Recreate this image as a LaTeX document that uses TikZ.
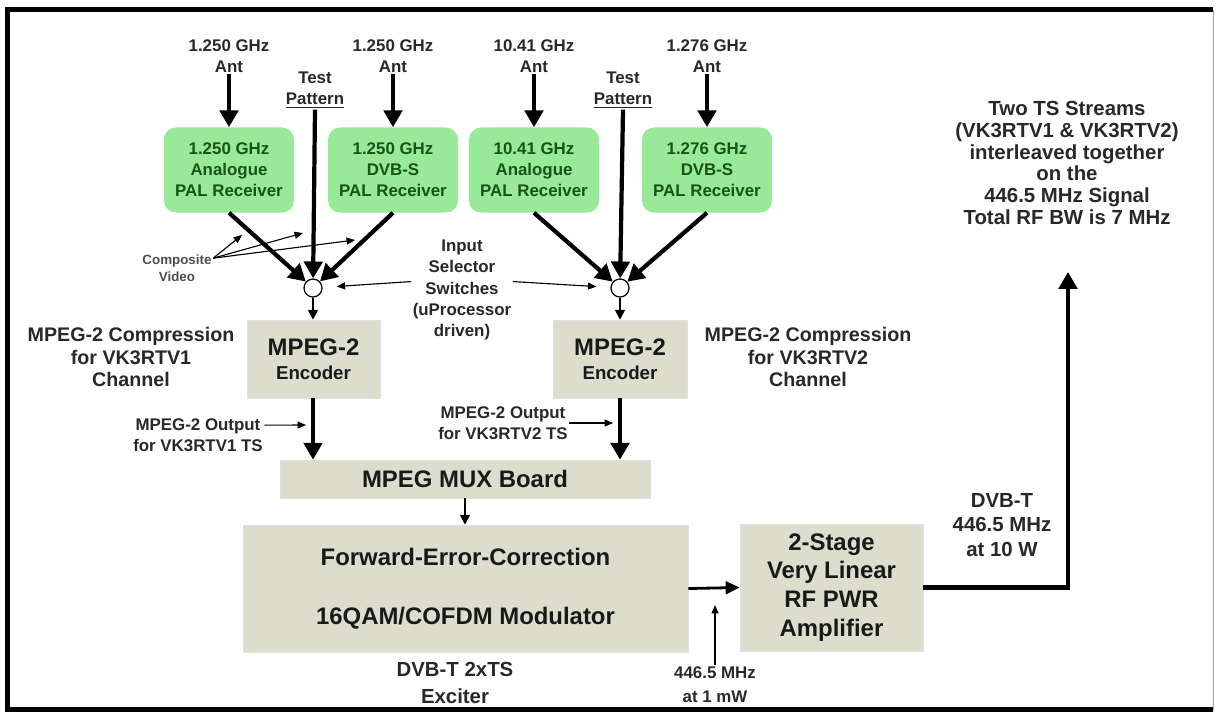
\documentclass[tikz,border=0pt]{standalone}
\usepackage{fontspec}
\setmainfont{Liberation Sans}
\usetikzlibrary{arrows.meta,positioning,calc}
\definecolor{rxgreen}{RGB}{152,234,152}
\definecolor{rxtext}{RGB}{24,84,24}
\definecolor{boxgrey}{RGB}{221,221,205}
\definecolor{txtgrey}{RGB}{40,40,40}
\tikzset{lbl/.style={align=center, text=txtgrey, inner sep=1pt, font=\fontsize{12}{15}\selectfont\bfseries}, rx/.style={rectangle, rounded corners=0.3cm, fill=rxgreen, text=rxtext, align=center, minimum width=3.25cm, minimum height=2.125cm, font=\fontsize{12}{15}\selectfont\bfseries}, blk/.style={rectangle, fill=boxgrey, draw=black!12, align=center, text=black!90}, sw/.style={circle, draw, line width=0.9pt, fill=white, minimum size=0.45cm, inner sep=0pt}, bigarrow/.style={line width=3pt, -{Triangle[length=12pt,width=13pt]}}, medarrow/.style={line width=2pt, -{Triangle[length=10pt,width=9pt]}}, midarrow/.style={line width=1.2pt, -{Triangle[length=7pt,width=7pt]}}, thinarrow/.style={line width=0.8pt, -{Triangle[length=6pt,width=5pt]}}}

\begin{document}
\begin{tikzpicture}[x=0.025cm, y=-0.025cm]
    \useasboundingbox (0,0) rectangle (1216,713);
    \draw[line width=3pt] (1213,9.5) -- (7.5,9.5) -- (7.5,709.5) -- (1213,709.5);
    \draw[black!35, line width=0.7pt] (1213,9.5) -- (1213,709.5);

    \node[rx] (rx1) at (229,170) {1.250 GHz\\Analogue\\PAL Receiver};
    \node[rx] (rx2) at (393,170) {1.250 GHz\\DVB-S\\PAL Receiver};
    \node[rx] (rx3) at (534,170) {10.41 GHz\\Analogue\\PAL Receiver};
    \node[rx] (rx4) at (707,170) {1.276 GHz\\DVB-S\\PAL Receiver};
    \node[lbl] (ant1) at (229,56) {1.250 GHz\\Ant};
    \node[lbl] (ant2) at (393,56) {1.250 GHz\\Ant};
    \node[lbl] (ant3) at (534,56) {10.41 GHz\\Ant};
    \node[lbl] (ant4) at (707,56) {1.276 GHz\\Ant};
    \node[lbl] (tp1) at (315,90) {Test\\\underline{Pattern}};
    \node[lbl] (tp2) at (623,90) {Test\\\underline{Pattern}};
    \node[sw] (sw1) at (313,288) {};
    \node[sw] (sw2) at (620,288) {};
    \foreach \a/\r in {ant1/rx1,ant2/rx2,ant3/rx3,ant4/rx4}
        \draw[bigarrow] (\a) -- (\r);
    \foreach \r/\s in {rx1/sw1,rx2/sw1,tp1/sw1,rx3/sw2,rx4/sw2,tp2/sw2}
        \draw[bigarrow] (\r.south) -- (\s);

    % composite video and selector notes
    \node[lbl, text=black!70, font=\fontsize{9.5}{12}\selectfont\bfseries] (cv) at (177,268) {Composite\\Video};
    \coordinate (cv1) at (242,235);
    \coordinate (cv2) at (303,233);
    \coordinate (cv3) at (355,240);
    \foreach \c in {cv1,cv2,cv3}
        \draw[thinarrow] ([yshift=7pt]cv.east) -- (\c);
    \node[lbl] (sel) at (462,290) {Input\\Selector\\Switches\\(uProcessor\\driven)};
    \draw[thinarrow, shorten >=10pt] ([yshift=6pt]sel.west) -- (sw1);
    \draw[thinarrow, shorten >=10pt] ([yshift=6pt]sel.east) -- (sw2);

    \node[blk, minimum width=3.325cm, minimum height=1.95cm, font=\fontsize{17}{17.4}\selectfont\bfseries] (enc1) at (313.5,359) {MPEG-2\\{\fontsize{13.3}{16}\selectfont Encoder}};
    \node[blk, minimum width=3.35cm, minimum height=1.95cm, font=\fontsize{17}{17.4}\selectfont\bfseries] (enc2) at (620,359) {MPEG-2\\{\fontsize{13.3}{16}\selectfont Encoder}};
    \draw[midarrow] (sw1.south) -- (sw1.south |- enc1.north);
    \draw[midarrow] (sw2.south) -- (sw2.south |- enc2.north);
    \node[lbl, font=\fontsize{14}{16}\selectfont\bfseries] (comp1) at (131,357) {MPEG-2 Compression\\for VK3RTV1\\Channel};
    \node[lbl, font=\fontsize{14}{16}\selectfont\bfseries] (comp2) at (808,357) {MPEG-2 Compression\\for VK3RTV2\\Channel};

    \node[blk, minimum width=9.25cm, minimum height=0.95cm, font=\fontsize{17}{20}\selectfont\bfseries] (mux) at (465,479) {MPEG MUX Board};
    \draw[bigarrow] (sw1.south |- enc1.south) -- (sw1.south |- mux.north);
    \draw[bigarrow] (sw2.south |- enc2.south) -- (sw2.south |- mux.north);
    \node[lbl] (out1) at (198,435) {MPEG-2 Output\\for VK3RTV1 TS};
    \node[lbl] (out2) at (503,423) {MPEG-2 Output\\for VK3RTV2 TS};
    \coordinate (o1) at (306,425);
    \coordinate (o2) at (613,423);
    \draw[thinarrow] ([yshift=7pt]out1.east) -- (o1);
    \draw[thinarrow] (out2.east) -- (o2);

    \node[blk, minimum width=11.125cm, minimum height=3.175cm, font=\fontsize{17}{20}\selectfont\bfseries] (fec) at (465.5,588.5) {Forward-Error-Correction\\[21.8pt]16QAM/COFDM Modulator};
    \draw[midarrow] (mux.south) -- (mux.south |- fec.north);
    \node[lbl, font=\fontsize{14.5}{19}\selectfont\bfseries] (exc) at (455,683) {DVB-T 2xTS\\Exciter};
    \node[blk, minimum width=4.575cm, minimum height=3.175cm, font=\fontsize{17}{20.5}\selectfont\bfseries] (amp) at (831.5,587.5) {2-Stage\\Very Linear\\RF PWR\\Amplifier};
    \draw[medarrow] (fec.east) -- (amp.west);
    \node[lbl, font=\fontsize{12}{17}\selectfont\bfseries] (lo) at (715,685) {446.5 MHz\\at 1 mW};
    \coordinate (lotip) at (715,605);
    \draw[thinarrow] (lo.north) -- (lotip);

    \node[lbl, font=\fontsize{14.5}{17.7}\selectfont\bfseries] (dvbt) at (1002,525) {DVB-T\\446.5 MHz\\at 10 W};
    \node[lbl, font=\fontsize{14.5}{15.6}\selectfont\bfseries] (streams) at (1067,163) {Two TS Streams\\(VK3RTV1 \& VK3RTV2)\\interleaved together\\on the\\446.5 MHz Signal\\Total RF BW is 7 MHz};
    \coordinate (tip) at (1068,272);
    \draw[bigarrow] (amp.east) -| (tip);
\end{tikzpicture}
\end{document}
